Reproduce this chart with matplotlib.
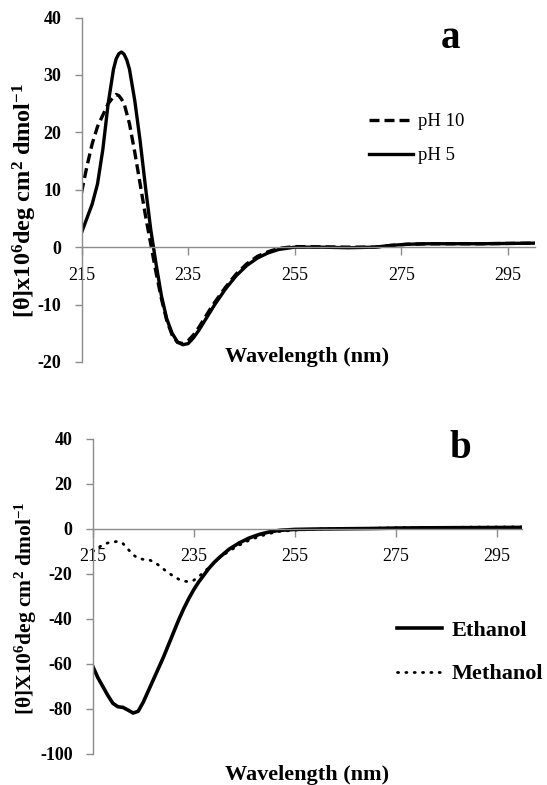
import matplotlib
matplotlib.use("Agg")
import matplotlib.pyplot as plt

plt.rcParams['font.family'] = ['Liberation Serif', 'DejaVu Serif']
plt.rcParams['mathtext.fontset'] = 'custom'
plt.rcParams['mathtext.rm'] = 'Liberation Serif'
plt.rcParams['mathtext.bf'] = 'Liberation Serif:bold'
plt.rcParams['mathtext.default'] = 'bf'
plt.rcParams['axes.unicode_minus'] = False

# ---------------- Data: panel a (pH) ----------------
wl_ph5 = [215, 216, 217, 218, 219, 220, 221, 221.5, 222, 222.5, 223, 223.5, 224, 225, 226, 227, 228,
          229, 230, 231, 232, 233, 234, 235, 236, 237, 238, 239, 240, 242, 244, 246,
          248, 250, 252, 255, 260, 265, 270, 273, 276, 280, 290, 300]
ph5 = [2.5, 5, 7.5, 11, 17, 25, 31, 32.8, 33.7, 34, 33.6, 32.6, 31, 25.5, 18.5, 10.5, 3,
       -3, -8.5, -12.5, -15, -16.5, -17, -16.8, -15.8, -14.5, -13, -11.5, -10, -7.3, -5, -3.2,
       -1.9, -1, -0.4, 0, 0, -0.1, 0, 0.3, 0.5, 0.6, 0.6, 0.7]

wl_ph10 = [215, 216, 217, 218, 219, 220, 221, 221.5, 222, 222.5, 223, 224, 225, 226, 227, 228,
           229, 230, 231, 232, 233, 234, 235, 236, 237, 238, 239, 240, 242, 244, 246,
           248, 250, 252, 255, 260, 265, 270, 273, 276, 280, 290, 300]
ph10 = [9.5, 14, 18, 21, 23, 25, 26.2, 26.6, 26.4, 25.8, 25, 21.5, 16.5, 11, 5.5, 0.5,
        -4.5, -9, -12.8, -15.3, -16.6, -16.8, -16.3, -15.3, -14, -12.5, -11, -9.6, -7, -4.7, -2.9,
        -1.6, -0.8, -0.2, 0.1, 0.05, 0, 0, 0.3, 0.5, 0.6, 0.6, 0.7]

# ---------------- Data: panel b (solvent) ----------------
wl_eth = [215, 216, 217, 218, 219, 220, 221, 222, 223, 224, 225, 226, 227, 228, 229,
          230, 231, 232, 233, 234, 235, 236, 237, 238, 239, 240, 242, 244, 246, 248,
          250, 252, 255, 260, 270, 275, 280, 290, 300]
ethanol = [-61, -66, -70, -74, -77.5, -79, -79.3, -80.5, -81.8, -81, -77, -72, -67, -62, -57,
           -51.5, -46, -40.5, -35.5, -31, -27, -23.5, -20.5, -17.5, -15, -12.8, -9, -6.2, -4, -2.4,
           -1.3, -0.6, -0.2, 0, 0.2, 0.4, 0.5, 0.6, 0.7]

wl_meth = [215, 216, 217, 218, 219, 220, 221, 222, 223, 224, 225, 226, 227, 228, 229,
           230, 231, 232, 233, 234, 235, 236, 237, 238, 239, 240, 242, 244, 246, 248,
           250, 252, 255, 260, 270, 275, 280, 290, 300]
methanol = [-10, -8.5, -7, -6.2, -5.8, -5.5, -6.5, -9, -11.5, -13, -13.5, -13.6, -14.5, -16, -17.8,
            -19.5, -21, -22.3, -23.2, -23.4, -22.8, -21.2, -19.2, -17.2, -15, -13, -9.8, -7.2, -5, -3.3,
            -2, -1.1, -0.5, 0, 0.3, 0.5, 0.6, 0.8, 0.9]

x_ticks = [215, 235, 255, 275, 295]
y_ticks_a = [-20, -10, 0, 10, 20, 30, 40]
y_ticks_b = [-100, -80, -60, -40, -20, 0, 20, 40]

GRAY = '#8c8c8c'

fig = plt.figure(figsize=(5.47, 7.85), dpi=100)
axa = fig.add_axes([0.149, 0.5389, 0.8283, 0.4387])
axb = fig.add_axes([0.1695, 0.0395, 0.7848, 0.4013])


def style_axes(ax, yticks, ylim):
    ax.set_xlim(215, 300)
    ax.set_ylim(*ylim)
    ax.set_xticks(x_ticks)
    ax.set_yticks(yticks)
    for s in ('top', 'right'):
        ax.spines[s].set_visible(False)
    ax.spines['bottom'].set_position(('data', 0))
    for s in ('left', 'bottom'):
        ax.spines[s].set_color(GRAY)
        ax.spines[s].set_linewidth(1.0)
    ax.tick_params(axis='x', direction='out', length=6, width=1.0, color=GRAY,
                   labelsize=13, pad=8)
    ax.tick_params(axis='y', direction='out', length=5, width=1.0, color=GRAY,
                   labelsize=13, pad=9.5)
    for lab in ax.get_yticklabels():
        lab.set_fontweight('bold')
    ax.patch.set_visible(False)


# ---- panel a ----
style_axes(axa, y_ticks_a, (-20, 40))
l10, = axa.plot(wl_ph10, ph10, color='black', lw=2.4, dashes=(3.0, 1.5), label='pH 10')
l5, = axa.plot(wl_ph5, ph5, color='black', lw=2.4, label='pH 5')
axa.legend(handles=[l10, l5], loc='upper left', bbox_to_anchor=(369 / 547, 1 - 113 / 785),
           bbox_transform=fig.transFigure, frameon=False, borderpad=0, borderaxespad=0,
           handlelength=2.35, handletextpad=0.25, labelspacing=0.9,
           prop={'family': 'Liberation Serif', 'size': 13.5})
fig.text(450 / 547, 1 - 38 / 785, 'a', fontsize=28, fontweight='bold',
         ha='center', va='center')
fig.text(306.6 / 547, 1 - 357 / 785, 'Wavelength (nm)', fontsize=16,
         fontweight='bold', ha='center', va='center')
fig.text(25 / 547, 1 - 200 / 785, r'[θ]x10$^{6}$deg cm$^{2}$ dmol$^{-1}$',
         fontsize=17.5, fontweight='bold', rotation=90, ha='center', va='center')

# ---- panel b ----
style_axes(axb, y_ticks_b, (-100, 40))
le, = axb.plot(wl_eth, ethanol, color='black', lw=2.6, label='Ethanol')
lm, = axb.plot(wl_meth, methanol, color='black', lw=2.0, dashes=(0.4, 2.6),
               dash_capstyle='round', label='Methanol')
axb.legend(handles=[le, lm], loc='upper left', bbox_to_anchor=(396.7 / 547, 1 - 620 / 785),
           bbox_transform=fig.transFigure, frameon=False, borderpad=0, borderaxespad=0,
           handlelength=2.03, handletextpad=0.45, labelspacing=1.05,
           prop={'family': 'Liberation Serif', 'size': 16, 'weight': 'bold'})
fig.text(460.6 / 547, 1 - 448 / 785, 'b', fontsize=28, fontweight='bold',
         ha='center', va='center')
fig.text(306.6 / 547, 1 - 775 / 785, 'Wavelength (nm)', fontsize=16,
         fontweight='bold', ha='center', va='center')
fig.text(26 / 547, 1 - 608 / 785, r'[θ]X10$^{6}$deg cm$^{2}$ dmol$^{-1}$',
         fontsize=15.5, fontweight='bold', rotation=90, ha='center', va='center')

fig.savefig('out.png', dpi=100)
